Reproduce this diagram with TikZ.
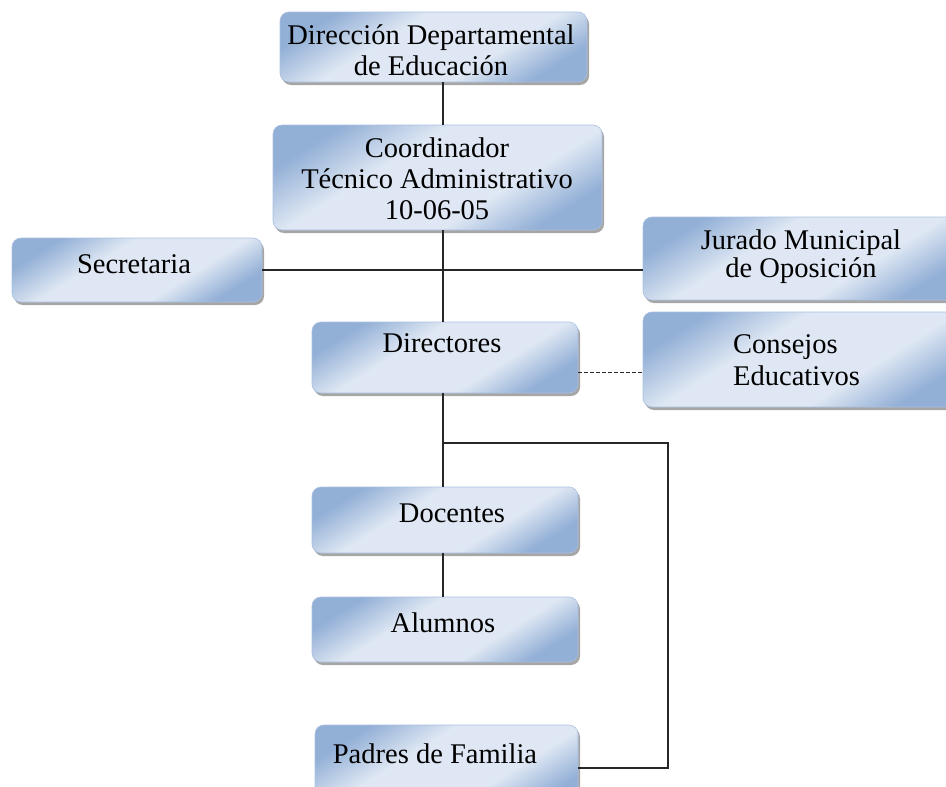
\documentclass[tikz,border=0pt]{standalone}
\usepackage{fontspec}
\setmainfont{Liberation Serif}
\usetikzlibrary{shadows}
\definecolor{boxdark}{RGB}{146,175,214}
\definecolor{boxlight}{RGB}{222,231,243}
\definecolor{boxline}{RGB}{170,192,224}
\pgfdeclareverticalshading{unitshade}{100bp}{color(0bp)=(boxdark); color(25bp)=(boxdark); color(38bp)=(boxlight); color(60bp)=(boxlight); color(75bp)=(boxdark); color(100bp)=(boxdark)}
\tikzset{
	unitbox/.style={rectangle, rounded corners=9pt, draw=boxline, line width=0.6pt,
		shading=unitshade, shading angle=32,
		drop shadow={shadow xshift=2pt, shadow yshift=-3pt, fill=black, opacity=0.35}, inner sep=0pt},
	unittext/.style={font=\fontsize{28.5}{31}\selectfont, align=center, inner sep=0pt},
	link/.style={line width=1.4pt, black!85},
}

\begin{document}
\begin{tikzpicture}[x=1pt, y=-1pt]
	%%%%% START %%%%%
	\useasboundingbox (0,0) rectangle (946,787);
	\clip (0,0) rectangle (946,787);
	
	\node[unitbox, minimum width=307pt, minimum height=70pt] (dir) at (433.5,47) {};
	\node[unittext] (dirtext) at (431,50) {Dirección Departamental\\ de Educación};
	
	\node[unitbox, minimum width=329pt, minimum height=105pt] (coord) at (437.5,177.5) {};
	\node[unittext] (coordtext) at (437,179) {Coordinador\\Técnico Administrativo\\10-06-05};
	
	\node[unitbox, minimum width=250pt, minimum height=64pt] (secr) at (137,270) {};
	\node[unittext, anchor=base] (secrtext) at (134,273) {Secretaria};
	
	\node[unitbox, minimum width=317pt, minimum height=83pt] (jur) at (801.5,258.5) {};
	\node[unittext, font=\fontsize{28.5}{28}\selectfont] (jurtext) at (801,257) {Jurado Municipal\\de Oposición};
	
	\node[unitbox, minimum width=266pt, minimum height=71pt] (dirs) at (445,357.5) {};
	\node[unittext, anchor=base] (dirstext) at (442,352) {Directores};
	
	\node[unitbox, minimum width=317pt, minimum height=95pt] (cons) at (801.5,359.5) {};
	\node[unittext, align=left, anchor=west, font=\fontsize{28.5}{32}\selectfont] (constext) at (733,360) {Consejos\\Educativos};
	
	\node[unitbox, minimum width=266pt, minimum height=66pt] (doc) at (445,520) {};
	\node[unittext, anchor=base] (doctext) at (452,522) {Docentes};
	
	\node[unitbox, minimum width=266pt, minimum height=65pt] (alum) at (445,629.5) {};
	\node[unittext, anchor=base] (alumtext) at (443,632) {Alumnos};
	
	\node[unitbox, minimum width=263pt, minimum height=86pt] (padres) at (446.5,768) {};
	\node[unittext, anchor=base] (padrestext) at (435,763) {Padres de Familia};
	
	% connectors
	\coordinate (spine) at (443,0);
	\coordinate (rail) at (668,0);
	\coordinate (fork) at (443,443);
	\coordinate (dashrow) at (0,372);
	
	\draw[link] (dir.south -| spine) -- (coord.north -| spine);
	\draw[link] (coord.south -| spine) -- (dirs.north -| spine);
	\draw[link] (secr.east) -- (secr.east -| jur.west);
	\draw[link, line width=1pt, dash pattern=on 4pt off 2pt] (dirs.east |- dashrow) -- (cons.west |- dashrow);
	\draw[link] (dirs.south -| spine) -- (doc.north -| spine);
	\draw[link] (fork) -- (fork -| rail) |- (padres.east);
	\draw[link] (doc.south -| spine) -- (alum.north -| spine);
	
	%%%%% END %%%%%
\end{tikzpicture}
\end{document}
